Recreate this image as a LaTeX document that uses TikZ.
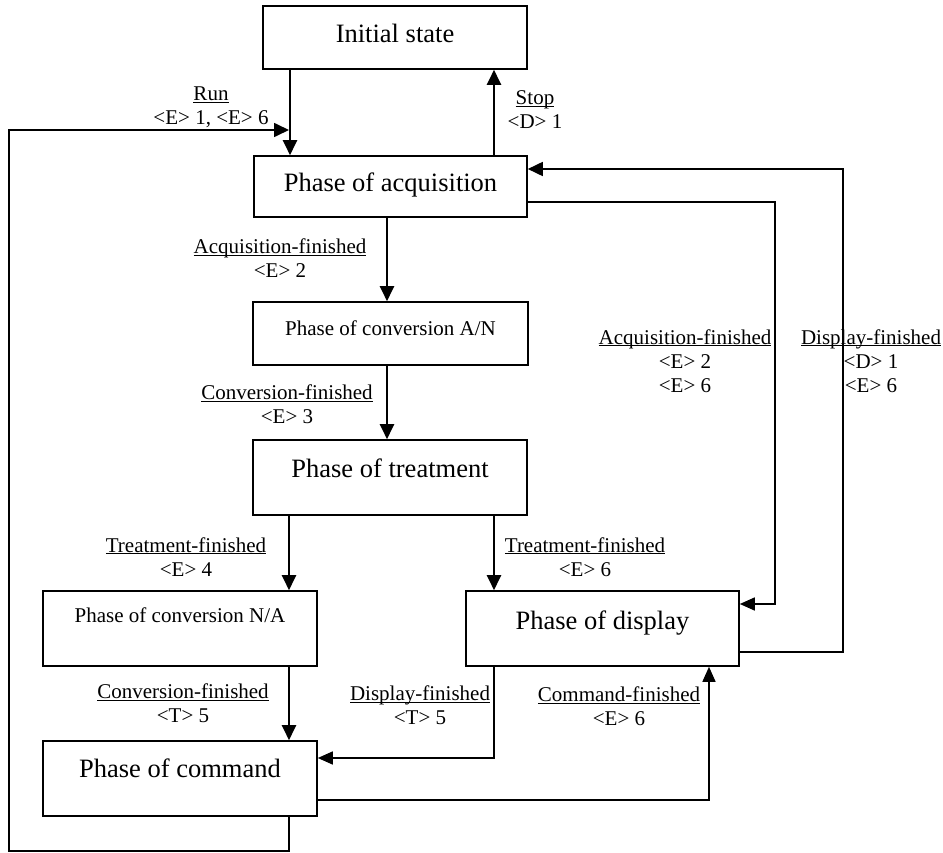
\documentclass[tikz,border=0pt]{standalone}
\usepackage{fontspec}
\setmainfont{Liberation Serif}
\usetikzlibrary{arrows.meta}
\newcommand\ulab[1]{\underline{\smash{#1}}}
\begin{document}
\begin{tikzpicture}[x=1pt,y=-1pt,
  box/.style={draw, line width=1.6pt, inner sep=0pt, align=center,
    text height=18.5pt, font=\fontsize{26.5}{30}\selectfont},
  smallbox/.style={box, text height=14.7pt, font=\fontsize{21}{24}\selectfont},
  lab/.style={align=center, inner sep=0pt, text height=15pt, text depth=1pt,
    font=\fontsize{21}{24}\selectfont},
  thickarr/.style={line width=2.3pt, -{Triangle[length=15pt,width=14pt]}},
  thinarr/.style={line width=1.5pt, -{Triangle[length=15pt,width=13pt]}},
  looparr/.style={line width=1.7pt, -{Triangle[length=15pt,width=14pt]}},
]
\useasboundingbox (0,0) rectangle (943,853);

% states
\node[box, minimum width=264pt, minimum height=63pt, text depth=9pt] (init) at (395,37.5) {Initial state};
\node[box, minimum width=273pt, minimum height=61pt, text depth=9pt] (acq) at (390.5,186.5) {Phase of acquisition};
\node[smallbox, minimum width=275pt, minimum height=63pt, text depth=11pt] (an) at (390.5,333.5) {Phase of conversion A/N};
\node[box, minimum width=274pt, minimum height=75pt, text depth=19pt] (treat) at (390,477.5) {Phase of treatment};
\node[smallbox, minimum width=274pt, minimum height=75pt, text depth=27pt] (na) at (180,628.5) {Phase of conversion N/A};
\node[box, minimum width=273pt, minimum height=75pt, text depth=17pt] (disp) at (602.5,628.5) {Phase of display};
\node[box, minimum width=274pt, minimum height=75pt, text depth=21pt] (cmd) at (180,778.5) {Phase of command};

% main vertical transitions
\draw[thickarr] (init.south -| 290,0) -- (acq.north -| 290,0);
\draw[thickarr] (acq.north -| 494,0) -- (init.south -| 494,0);
\draw[thickarr] (acq.south -| 387,0) -- (an.north -| 387,0);
\draw[thickarr] (an.south -| 387,0) -- (treat.north -| 387,0);
\draw[thickarr] (treat.south -| 289,0) -- (na.north -| 289,0);
\draw[thickarr] (treat.south -| 494,0) -- (disp.north -| 494,0);
\draw[thickarr] (na.south -| 289,0) -- (cmd.north -| 289,0);

% loops
\coordinate (runin) at (289,130);
\draw[looparr] (cmd.south -| 289,0) -- (289,851) -- (9,851) -- (9,130) -- (runin);
\draw[thinarr] (acq.east |- 0,202) -- (775,202) -- (775,604) -- (disp.east |- 0,604);
\draw[looparr] (disp.east |- 0,652) -- (843,652) -- (843,169) -- (acq.east |- 0,169);
\draw[thinarr] (disp.south -| 494,0) -- (494,758) -- (cmd.east |- 0,758);
\draw[thinarr] (cmd.east |- 0,800) -- (709,800) -- (disp.south -| 709,0);

% labels
\node[lab] (lrun) at (211,117.5) {\ulab{Run}\\<E> 1, <E> 6};
\node[lab] (lstop) at (535,122) {\ulab{Stop}\\<D> 1};
\node[lab] (lacq1) at (280,270.5) {\ulab{Acquisition-finished}\\<E> 2};
\node[lab] (lconv1) at (287,416.5) {\ulab{Conversion-finished}\\<E> 3};
\node[lab] (lacq2) at (685,385) {\ulab{Acquisition-finished}\\<E> 2\\<E> 6};
\node[lab] (ldisp1) at (871,385) {\ulab{Display-finished}\\<D> 1\\<E> 6};
\node[lab] (ltreat1) at (186,569) {\ulab{Treatment-finished}\\<E> 4};
\node[lab] (ltreat2) at (585,569) {\ulab{Treatment-finished}\\<E> 6};
\node[lab] (lconv2) at (183,715.5) {\ulab{Conversion-finished}\\<T> 5};
\node[lab] (ldisp2) at (420,717.5) {\ulab{Display-finished}\\<T> 5};
\node[lab] (lcmd) at (619,718.5) {\ulab{Command-finished}\\<E> 6};
\end{tikzpicture}
\end{document}
